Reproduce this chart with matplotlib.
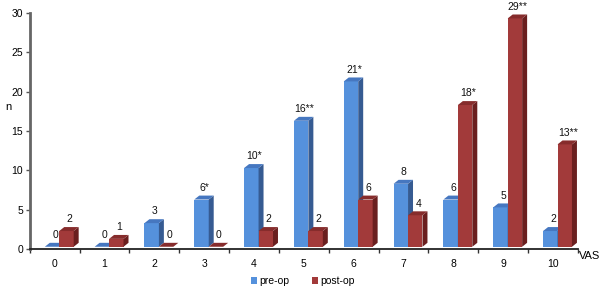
import matplotlib.pyplot as plt
from matplotlib.patches import Polygon
import numpy as np

plt.rcParams['font.family'] = ['Liberation Sans', 'DejaVu Sans']

# data
vas = ['0', '1', '2', '3', '4', '5', '6', '7', '8', '9', '10']
pre_op = [0, 0, 3, 6, 10, 16, 21, 8, 6, 5, 2]
post_op = [2, 1, 0, 0, 2, 2, 6, 4, 18, 29, 13]
pre_labels = ['0', '0', '3', '6*', '10*', '16**', '21*', '8', '6', '5', '2']
post_labels = ['2', '1', '0', '0', '2', '2', '6', '4', '18*', '29**', '13**']

# face colours: front, side, top
blue = ('#5591dc', '#365b92', '#4677c0')
red = ('#a23a3a', '#6a1f1f', '#862c2c')

fig = plt.figure(figsize=(6.09, 2.87), dpi=100)
ax = fig.add_axes([0.049, 0.132, 0.9, 0.823])

width = 0.29
base = 0.3
dx, dy = 0.1, 0.5
x = np.arange(len(vas))


def bar3d(xs, vals, left_off, cols, labels):
    for xi, v, lab in zip(xs, vals, labels):
        x0 = xi + left_off
        x1 = x0 + width
        top = base + v
        ax.add_patch(Polygon([(x0, base), (x1, base), (x1, top), (x0, top)],
                             closed=True, fc=cols[0], ec='none'))
        ax.add_patch(Polygon([(x1, base), (x1 + dx, base + dy), (x1 + dx, top + dy), (x1, top)],
                             closed=True, fc=cols[1], ec='none'))
        ax.add_patch(Polygon([(x0, top), (x1, top), (x1 + dx, top + dy), (x0 + dx, top + dy)],
                             closed=True, fc=cols[2], ec='none'))
        ax.text(x0 + width / 2 + dx * 0.6, top + dy + 0.35, lab, ha='center', va='bottom',
                fontsize=7.5, color='#111111', clip_on=False)


bar3d(x, pre_op, -0.2, blue, pre_labels)
bar3d(x, post_op, -0.2 + width, red, post_labels)

ax.set_xlim(-0.5, 10.5)
ax.set_ylim(0, 30)
ax.set_yticks(range(0, 31, 5))
ax.set_xticks(x)
ax.set_xticklabels(vas)
ax.set_xticks(np.arange(-0.5, 11, 1), minor=True)
ax.tick_params(axis='x', which='major', length=0, pad=7, labelsize=7.5)
ax.tick_params(axis='x', which='minor', length=3, width=1, color='#333333', direction='out')
ax.tick_params(axis='y', length=3, width=1, color='#555555', pad=2, labelsize=7.5)

for s in ['top', 'right']:
    ax.spines[s].set_visible(False)
ax.spines['left'].set_color('#666666')
ax.spines['left'].set_linewidth(2)
ax.spines['bottom'].set_color('#222222')
ax.spines['bottom'].set_linewidth(1.3)

fig.text(8 / 609, 1 - 107 / 287, 'n', ha='center', va='center', fontsize=8)
fig.text(590 / 609, 1 - 256 / 287, 'VAS', ha='center', va='center', fontsize=8)

# legend
ax.bar([0], [0], color=blue[0], label='pre-op')
ax.bar([0], [0], color=red[0], label='post-op')
fig.legend(loc='center', bbox_to_anchor=(0.497, 1 - 281 / 287), ncol=2, frameon=False,
           fontsize=7.5, handlelength=0.6, handleheight=0.6, handletextpad=0.2,
           columnspacing=2.2)

fig.savefig('out.png', dpi=100)
